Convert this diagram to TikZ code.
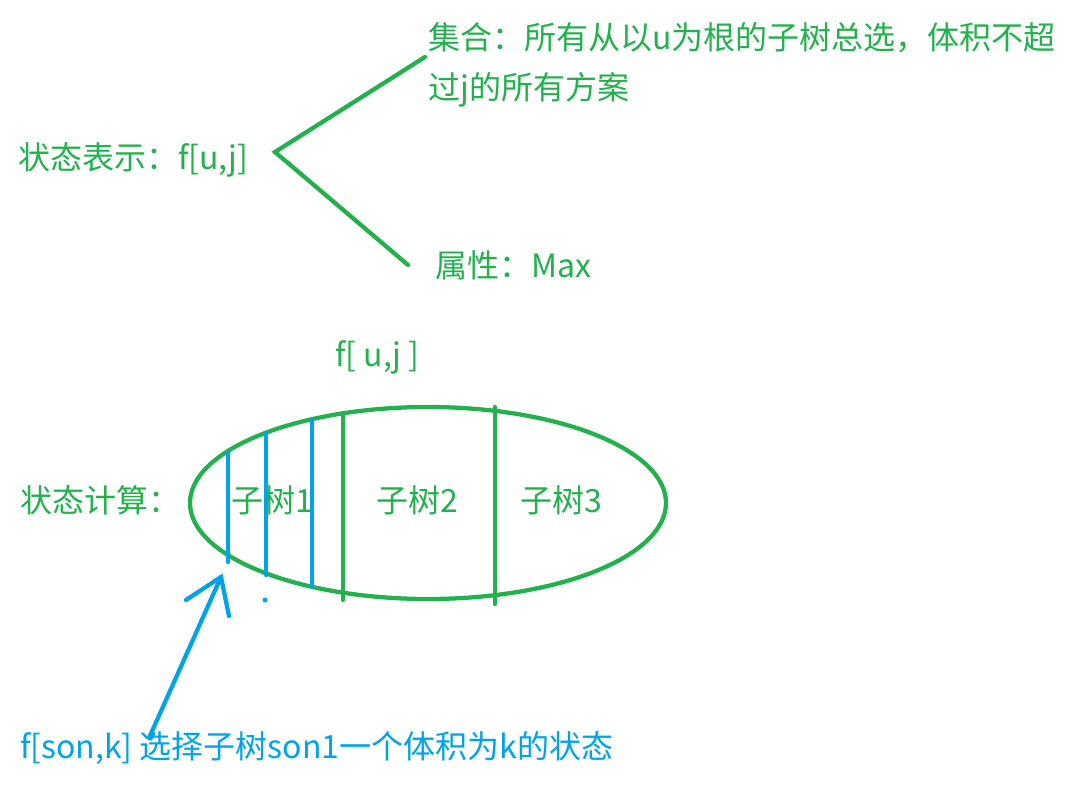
\documentclass[tikz,border=0pt]{standalone}
\usepackage{fontspec}
\setmainfont{Noto Sans CJK SC}
\definecolor{pgreen}{RGB}{34,177,76}
\definecolor{pblue}{RGB}{0,162,232}
\begin{document}
\begin{tikzpicture}[x=0.75pt,y=-0.75pt,
  gtext/.style={text=pgreen,font=\fontsize{24}{29}\selectfont,inner sep=0pt,anchor=west},
  btext/.style={text=pblue,font=\fontsize{24}{29}\selectfont,inner sep=0pt,anchor=west},
  gline/.style={draw=pgreen,line width=3.2pt,line cap=round},
  bline/.style={draw=pblue,line width=3.2pt,line cap=round}]
\useasboundingbox[fill=white] (0,0) rectangle (1073,791);
% state representation
\node[gtext] (rep) at (18,160) {状态表示：f[u,j]};
\coordinate (fork) at (275,152);
\coordinate (forkA) at (425,57);
\coordinate (forkB) at (408,265);
\draw[gline] (forkA) -- (fork) -- (forkB);
\node[gtext] (set1) at (428,38) {集合：所有从以u为根的子树总选，体积不超};
\node[gtext] (set2) at (428,90) {过j的所有方案};
\node[gtext] (attr) at (435,265) {属性：Max};
% state computation
\node[gtext] (fuj) at (335,357) {f[ u,j ]};
\node[gtext] (calc) at (20,500) {状态计算：};
\draw[gline] (428,503) ellipse [x radius=238, y radius=96];
\draw[gline] (343,413) -- (343,600);
\draw[gline] (495,407) -- (495,604);
\node[gtext,anchor=center] (t1) at (272,500) {子树1};
\node[gtext,anchor=center] (t2) at (417,500) {子树2};
\node[gtext,anchor=center] (t3) at (561,500) {子树3};
\draw[bline] (228,453) -- (228,562);
\draw[bline] (266,433) -- (266,575);
\draw[bline] (312,420) -- (312,587);
\fill[pblue] (265,600) circle (2.5);
% arrow
\node[btext] (son) at (20,748) {f[son,k] 选择子树son1一个体积为k的状态};
\coordinate (tail) at (149,738);
\coordinate (tip) at (221,577);
\coordinate (armL) at (186,600);
\coordinate (armR) at (229,616);
\draw[bline] (tail) -- (tip);
\draw[bline] (armL) -- (tip) -- (armR);
\end{tikzpicture}
\end{document}
